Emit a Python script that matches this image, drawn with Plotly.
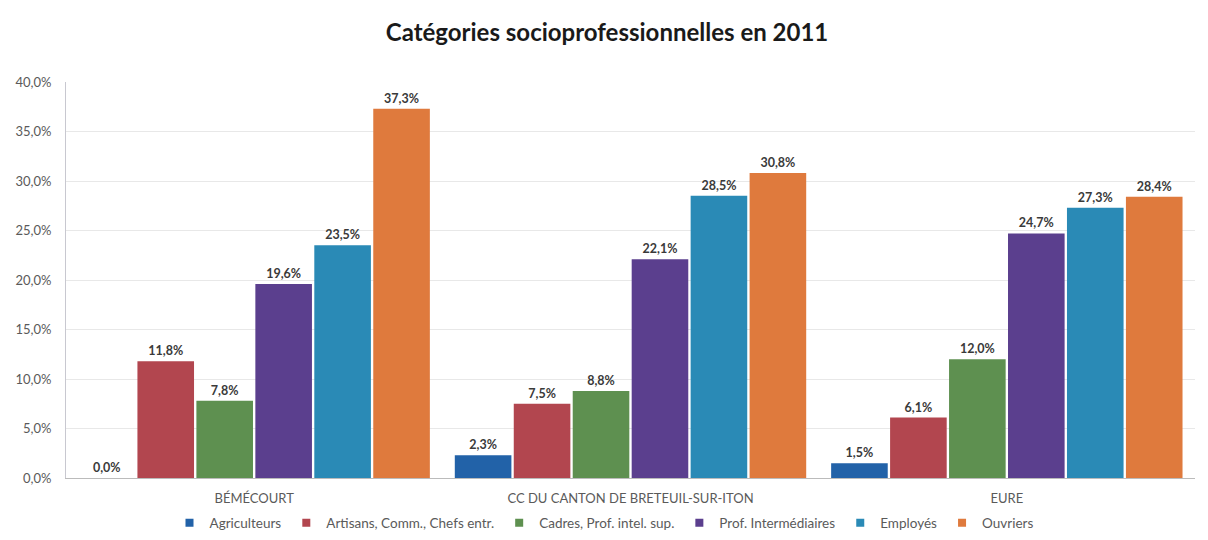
import plotly.graph_objects as go

# Territories compared on the x axis
territoires = ["BÉMÉCOURT", "CC DU CANTON DE BRETEUIL-SUR-ITON", "EURE"]

# Share of each socio-professional category (in %)
agriculteurs = [0.0, 2.3, 1.5]
artisans = [11.8, 7.5, 6.1]
cadres = [7.8, 8.8, 12.0]
prof_inter = [19.6, 22.1, 24.7]
employes = [23.5, 28.5, 27.3]
ouvriers = [37.3, 30.8, 28.4]

series = [
    ("Agriculteurs", agriculteurs, "#2262A8"),
    ("Artisans, Comm., Chefs entr.", artisans, "#B2464F"),
    ("Cadres, Prof. intel. sup.", cadres, "#5E9050"),
    ("Prof. Intermédiaires", prof_inter, "#5B3F8E"),
    ("Employés", employes, "#2A8AB6"),
    ("Ouvriers", ouvriers, "#DF7A3D"),
]

font_family = "Lato, 'Open Sans', sans-serif"
label_grey = "#5a5a5a"

fig = go.Figure()
for name, values, color in series:
    fig.add_trace(go.Bar(
        x=territoires,
        y=values,
        name=name,
        showlegend=False,
        marker=dict(color=color, line=dict(width=0)),
        text=values,
        texttemplate="<b>%{y:.1f}%</b>",
        textposition="outside",
        textfont=dict(family=font_family, size=12.5, color="#3a3a3a"),
        cliponaxis=False,
    ))

# Small square legend keys, one per category
for name, values, color in series:
    fig.add_trace(go.Scatter(
        x=[None],
        y=[None],
        mode="markers",
        name=name,
        marker=dict(symbol="square", size=8, color=color),
        hoverinfo="skip",
    ))

fig.update_layout(
    width=1208,
    height=540,
    separators=", ",
    barmode="group",
    bargap=0.06,
    bargroupgap=0.04,
    paper_bgcolor="white",
    plot_bgcolor="white",
    margin=dict(l=66, r=13, t=82, b=62, autoexpand=False),
    font=dict(family=font_family, color=label_grey),
    title=dict(
        text="<b>Catégories socioprofessionnelles en 2011</b>",
        x=0.5025,
        xanchor="center",
        xref="container",
        y=1 - 33 / 540,
        yanchor="middle",
        font=dict(family=font_family, size=24, color="#1a1a1a", weight=900),
    ),
    legend=dict(
        orientation="h",
        x=0.5,
        xanchor="center",
        xref="container",
        y=1 - 523 / 540,
        yanchor="middle",
        yref="container",
        font=dict(family=font_family, size=13.5, color=label_grey),
        itemwidth=30,
        traceorder="normal",
    ),
    showlegend=True,
)

fig.update_yaxes(
    range=[0, 40],
    dtick=5,
    tickformat=".1f",
    ticksuffix="%",
    showgrid=True,
    gridcolor="#e8e8e8",
    gridwidth=1,
    showline=True,
    linecolor="#c8c8d0",
    linewidth=1,
    ticks="",
    ticklabelstandoff=11,
    tickfont=dict(family=font_family, size=13, color=label_grey),
    zeroline=False,
)

fig.update_xaxes(
    showline=True,
    linecolor="#bbbbbb",
    linewidth=1,
    ticks="",
    ticklabelstandoff=8,
    tickfont=dict(family=font_family, size=13, color=label_grey),
)

fig.write_html("out.html")
